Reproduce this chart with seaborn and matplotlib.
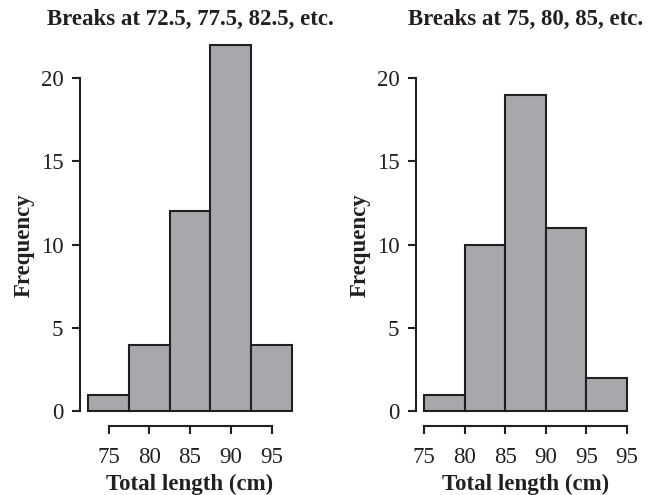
import matplotlib
matplotlib.use("Agg")
import matplotlib.pyplot as plt
import seaborn as sns
import numpy as np

# bin edges and counts
breaks_left = [72.5, 77.5, 82.5, 87.5, 92.5, 97.5]
counts_left = [1, 4, 12, 22, 4]
breaks_right = [75, 80, 85, 90, 95, 100]
counts_right = [1, 10, 19, 11, 2]

xticks_left = [75, 80, 85, 90, 95]
xticklabels_left = ["75", "80", "85", "90", "95"]
xticks_right = [75, 80, 85, 90, 95, 100]
xticklabels_right = ["75", "80", "85", "90", "95", "95"]
yticks = [0, 5, 10, 15, 20]

titles = ["Breaks at 72.5, 77.5, 82.5, etc.", "Breaks at 75, 80, 85, etc."]

sns.set_style("ticks")
plt.rcParams["font.family"] = ["Liberation Serif", "DejaVu Serif"]

fig = plt.figure(figsize=(6.48, 4.95), dpi=100)
ax_l = fig.add_axes([0.1235, 0.1394, 0.3395, 0.80])
ax_r = fig.add_axes([0.642, 0.1394, 0.338, 0.80])

panels = [
    (ax_l, breaks_left, counts_left, xticks_left, xticklabels_left, titles[0]),
    (ax_r, breaks_right, counts_right, xticks_right, xticklabels_right, titles[1]),
]

ink = "#231f20"
ymax = 22

for ax, br, ct, xt, xtl, title in panels:
    mids = (np.array(br[:-1]) + np.array(br[1:])) / 2
    sns.histplot(x=mids, weights=ct, bins=br, ax=ax, color="#a7a8ab",
                 alpha=1, edgecolor=ink, linewidth=1.5)
    span = br[-1] - br[0]
    ax.set_xlim(br[0] - 0.04 * span, br[-1] + 0.04 * span)
    ax.set_ylim(-0.04 * ymax, ymax * 1.04)
    ax.set_xticks(xt)
    ax.set_xticklabels(xtl)
    ax.set_yticks(yticks)
    ax.spines["top"].set_visible(False)
    ax.spines["right"].set_visible(False)
    ax.spines["left"].set_bounds(yticks[0], yticks[-1])
    ax.spines["bottom"].set_bounds(xt[0], xt[-1])
    for s in ["left", "bottom"]:
        ax.spines[s].set_linewidth(1.5)
        ax.spines[s].set_color(ink)
    ax.tick_params(axis="both", length=6, width=1.5, color=ink,
                   labelsize=16.5, labelcolor=ink)
    ax.tick_params(axis="x", pad=9)
    ax.tick_params(axis="y", pad=6)
    ax.set_xlabel("Total length (cm)", fontsize=16.5, fontweight="bold",
                  color=ink, labelpad=4)
    ax.set_ylabel("Frequency", fontsize=16.5, fontweight="bold",
                  color=ink, labelpad=4.5)
    # label sits at the middle of the drawn axis line, not the panel
    ax.yaxis.label.set_y((10 + 0.04 * ymax) / (ymax * 1.08))
    ax.set_title(title, fontsize=16.5, fontweight="bold", color=ink,
                 pad=0)

fig.savefig("out.png", dpi=100)
